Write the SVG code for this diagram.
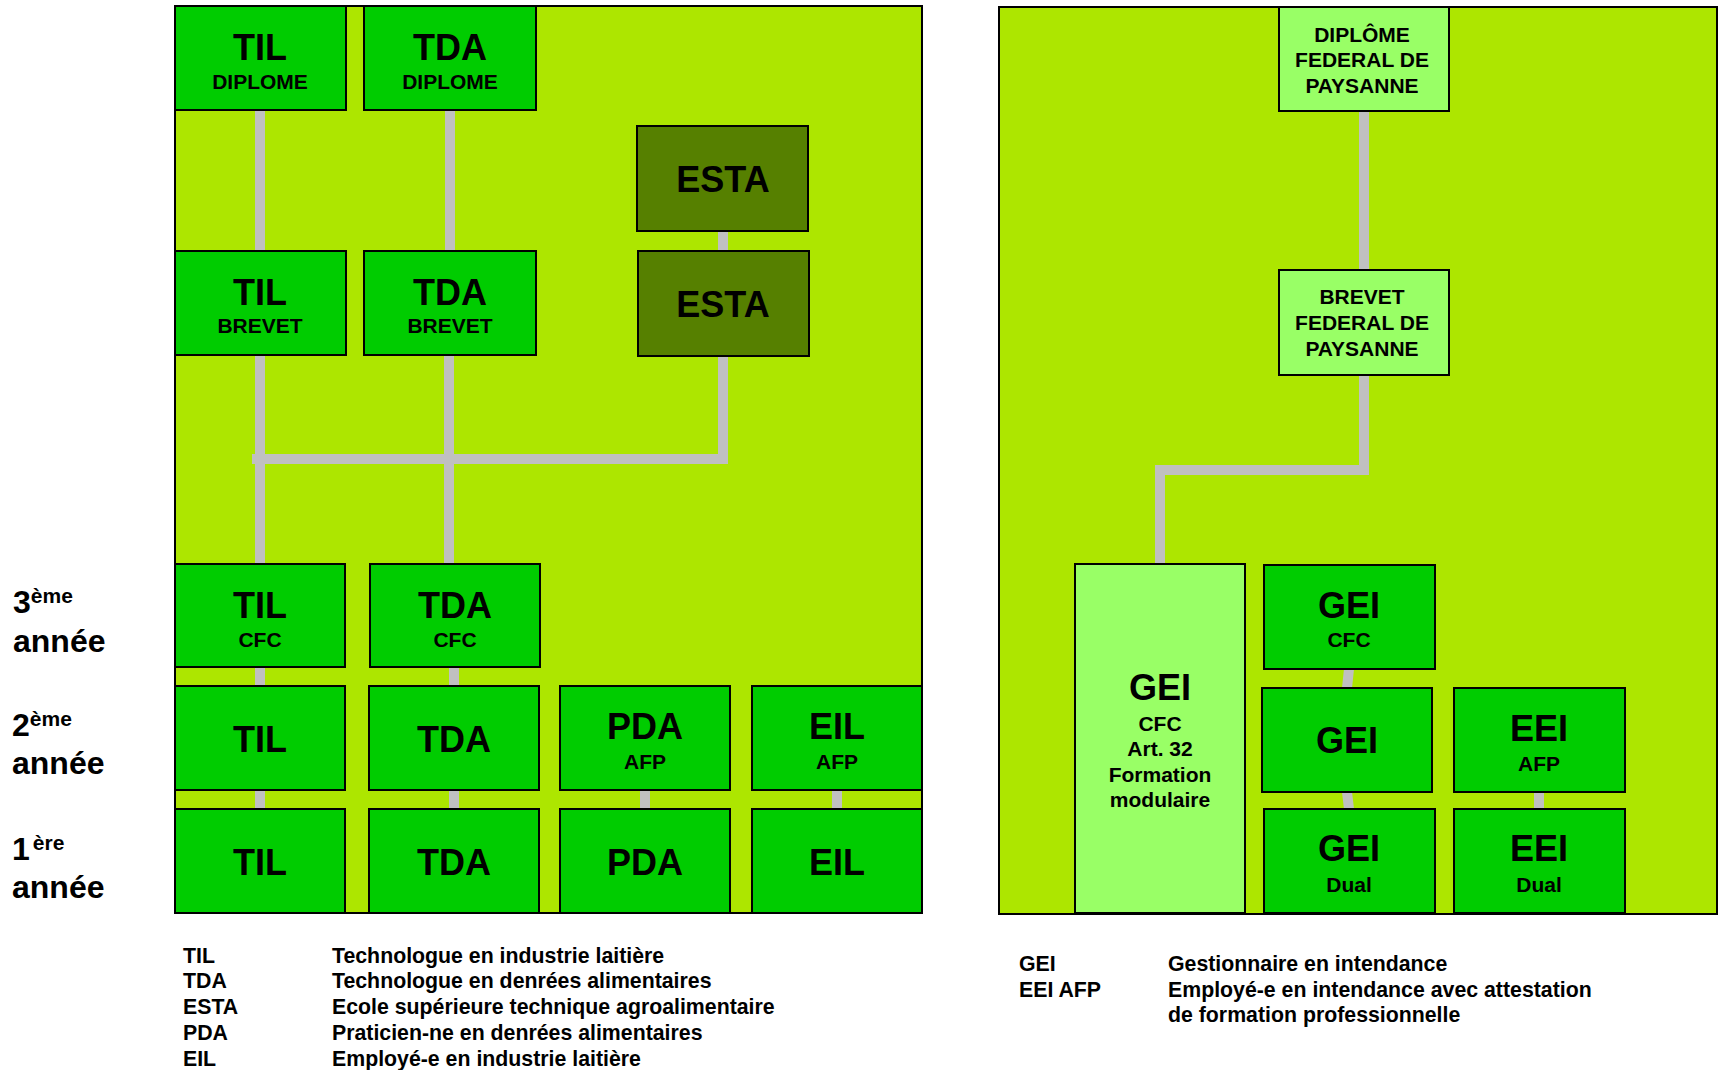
<svg xmlns="http://www.w3.org/2000/svg" width="1720" height="1070" viewBox="0 0 1720 1070">
<style>
text{font-family:"Liberation Sans",Arial,sans-serif;font-weight:bold;fill:#000}
.panel{fill:#ADE600;stroke:#000;stroke-width:2}
.b{fill:#00CC00;stroke:#000;stroke-width:2}
.d{fill:#568000;stroke:#000;stroke-width:2}
.l{fill:#99FF66;stroke:#000;stroke-width:2}
.m{font-size:36px;text-anchor:middle}
.s{font-size:21px;text-anchor:middle}
.y{font-size:32px}
.sup{font-size:21px}
.lg{font-size:21.3px}
.c{fill:none;stroke:#C0C0C0;stroke-width:10;stroke-linejoin:miter}
</style>
<rect width="1720" height="1070" fill="#fff"/>
<rect class="panel" x="175" y="6" width="747" height="907"/>
<rect class="panel" x="999" y="7" width="718" height="907"/>
<g id="connectors">
<path class="c" d="M260,110V251M450,110V251M723,231V251M260,355V564M449,355V564"/>
<path class="c" d="M723,356V459H252"/>
<path class="c" d="M260,667V686M260,790V809M454,667V686M454,790V809M645,790V809M837,790V809"/>
<path class="c" d="M1364,111V270"/>
<path class="c" d="M1364,375V470H1160V564"/>
<path class="c" d="M1349,669L1347,688M1347,792L1349,809M1539,792V809"/>
</g>
<g id="til-diplome"><rect class="b" x="175" y="6" width="171" height="104"/><text class="m" x="260" y="60">TIL</text><text class="s" x="260" y="89">DIPLOME</text></g>
<g id="tda-diplome"><rect class="b" x="364" y="6" width="172" height="104"/><text class="m" x="450" y="60">TDA</text><text class="s" x="450" y="89">DIPLOME</text></g>
<g id="esta-top"><rect class="d" x="637" y="126" width="171" height="105"/><text class="m" x="723" y="192">ESTA</text></g>
<g id="til-brevet"><rect class="b" x="175" y="251" width="171" height="104"/><text class="m" x="260" y="305">TIL</text><text class="s" x="260" y="333">BREVET</text></g>
<g id="tda-brevet"><rect class="b" x="364" y="251" width="172" height="104"/><text class="m" x="450" y="305">TDA</text><text class="s" x="450" y="333">BREVET</text></g>
<g id="esta-bottom"><rect class="d" x="638" y="251" width="171" height="105"/><text class="m" x="723" y="317">ESTA</text></g>
<g id="til-cfc"><rect class="b" x="175" y="564" width="170" height="103"/><text class="m" x="260" y="618">TIL</text><text class="s" x="260" y="647">CFC</text></g>
<g id="tda-cfc"><rect class="b" x="370" y="564" width="170" height="103"/><text class="m" x="455" y="618">TDA</text><text class="s" x="455" y="647">CFC</text></g>
<g id="til-2"><rect class="b" x="175" y="686" width="170" height="104"/><text class="m" x="260" y="752">TIL</text></g>
<g id="tda-2"><rect class="b" x="369" y="686" width="170" height="104"/><text class="m" x="454" y="752">TDA</text></g>
<g id="pda-afp"><rect class="b" x="560" y="686" width="170" height="104"/><text class="m" x="645" y="739">PDA</text><text class="s" x="645" y="769">AFP</text></g>
<g id="eil-afp"><rect class="b" x="752" y="686" width="170" height="104"/><text class="m" x="837" y="739">EIL</text><text class="s" x="837" y="769">AFP</text></g>
<g id="til-1"><rect class="b" x="175" y="809" width="170" height="104"/><text class="m" x="260" y="875">TIL</text></g>
<g id="tda-1"><rect class="b" x="369" y="809" width="170" height="104"/><text class="m" x="454" y="875">TDA</text></g>
<g id="pda-1"><rect class="b" x="560" y="809" width="170" height="104"/><text class="m" x="645" y="875">PDA</text></g>
<g id="eil-1"><rect class="b" x="752" y="809" width="170" height="104"/><text class="m" x="837" y="875">EIL</text></g>
<g id="diplome-federal"><rect class="l" x="1279" y="7" width="170" height="104"/><text class="s" x="1362" y="42">DIPLÔME</text><text class="s" x="1362" y="67">FEDERAL DE</text><text class="s" x="1362" y="93">PAYSANNE</text></g>
<g id="brevet-federal"><rect class="l" x="1279" y="270" width="170" height="105"/><text class="s" x="1362" y="304">BREVET</text><text class="s" x="1362" y="330">FEDERAL DE</text><text class="s" x="1362" y="356">PAYSANNE</text></g>
<g id="gei-art32"><rect class="l" x="1075" y="564" width="170" height="349"/><text class="m" x="1160" y="700">GEI</text><text class="s" x="1160" y="731">CFC</text><text class="s" x="1160" y="756">Art. 32</text><text class="s" x="1160" y="782">Formation</text><text class="s" x="1160" y="807">modulaire</text></g>
<g id="gei-cfc"><rect class="b" x="1264" y="565" width="171" height="104"/><text class="m" x="1349" y="618">GEI</text><text class="s" x="1349" y="647">CFC</text></g>
<g id="gei-2"><rect class="b" x="1262" y="688" width="170" height="104"/><text class="m" x="1347" y="753">GEI</text></g>
<g id="eei-afp"><rect class="b" x="1454" y="688" width="171" height="104"/><text class="m" x="1539" y="741">EEI</text><text class="s" x="1539" y="771">AFP</text></g>
<g id="gei-dual"><rect class="b" x="1264" y="809" width="171" height="104"/><text class="m" x="1349" y="861">GEI</text><text class="s" x="1349" y="892">Dual</text></g>
<g id="eei-dual"><rect class="b" x="1454" y="809" width="171" height="104"/><text class="m" x="1539" y="861">EEI</text><text class="s" x="1539" y="892">Dual</text></g>
<g id="year-labels">
<text class="y" x="13" y="613">3<tspan class="sup" dy="-10">ème</tspan></text>
<text class="y" x="13" y="652">année</text>
<text class="y" x="12" y="736">2<tspan class="sup" dy="-10">ème</tspan></text>
<text class="y" x="12" y="774">année</text>
<text class="y" x="12" y="860">1<tspan class="sup" dy="-10" dx="3">ère</tspan></text>
<text class="y" x="12" y="898">année</text>
</g>
<g id="legend-left">
<text class="lg" x="183" y="963">TIL</text><text class="lg" x="332" y="963">Technologue en industrie laitière</text>
<text class="lg" x="183" y="988">TDA</text><text class="lg" x="332" y="988">Technologue en denrées alimentaires</text>
<text class="lg" x="183" y="1014">ESTA</text><text class="lg" x="332" y="1014">Ecole supérieure technique agroalimentaire</text>
<text class="lg" x="183" y="1040">PDA</text><text class="lg" x="332" y="1040">Praticien-ne en denrées alimentaires</text>
<text class="lg" x="183" y="1066">EIL</text><text class="lg" x="332" y="1066">Employé-e en industrie laitière</text>
</g>
<g id="legend-right">
<text class="lg" x="1019" y="971">GEI</text><text class="lg" x="1168" y="971">Gestionnaire en intendance</text>
<text class="lg" x="1019" y="997">EEI AFP</text><text class="lg" x="1168" y="997">Employé-e en intendance avec attestation</text>
<text class="lg" x="1168" y="1022">de formation professionnelle</text>
</g>
</svg>
